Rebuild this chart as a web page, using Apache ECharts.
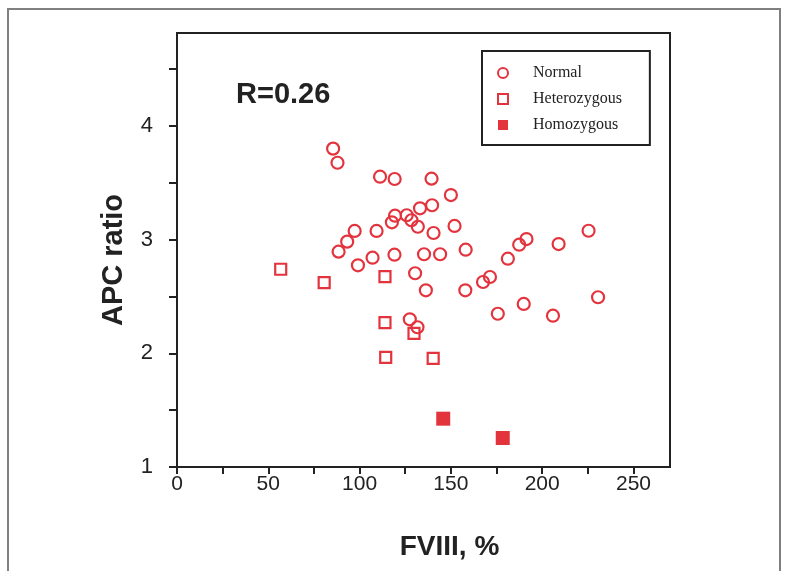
<!DOCTYPE html>
<html>
<head>
<meta charset="utf-8">
<script src="https://cdn.jsdelivr.net/npm/echarts@6/dist/echarts.min.js"></script>
<style>
html,body{margin:0;padding:0;background:#fff;}
#chart{width:788px;height:571px;}
</style>
</head>
<body>
<div id="chart"></div>
<script>
// FVIII (%) and APC ratio
const normalFVIII = [85.5, 87.9, 111.2, 119.2, 139.4, 150.0, 139.7, 133.1, 119.4, 125.8,
  117.7, 128.4, 131.9, 140.5, 97.3, 109.3, 93.2, 88.5, 99.1, 107.1,
  119.1, 135.3, 144.1, 152.0, 158.1, 130.4, 136.3, 157.9, 171.4, 167.6,
  181.2, 187.4, 191.4, 209.0, 225.4, 230.6, 189.9, 175.7, 205.9, 127.5, 131.7];
const normalAPC = [3.80, 3.676, 3.553, 3.533, 3.536, 3.392, 3.302, 3.275, 3.210, 3.214,
  3.152, 3.170, 3.113, 3.058, 3.076, 3.076, 2.982, 2.894, 2.774, 2.841,
  2.867, 2.871, 2.871, 3.120, 2.911, 2.704, 2.554, 2.554, 2.671, 2.627,
  2.832, 2.955, 3.005, 2.961, 3.078, 2.493, 2.434, 2.348, 2.331, 2.299, 2.229];
const heteroFVIII = [56.8, 80.6, 113.9, 113.9, 129.8, 114.3, 140.3];
const heteroAPC = [2.739, 2.621, 2.674, 2.269, 2.176, 1.965, 1.956];
const homoFVIII = [145.8, 178.4];
const homoAPC = [1.425, 1.255];

const xTickValues = [0, 25, 50, 75, 100, 125, 150, 175, 200, 225, 250];
const xLabelValues = [0, 50, 100, 150, 200, 250];
const yTickValues = [1, 1.5, 2, 2.5, 3, 3.5, 4, 4.5];
const yLabelValues = [1, 2, 3, 4];

const seriesNames = ['Normal', 'Heterozygous', 'Homozygous'];
const annotation = 'R=0.26';
const xTitle = 'FVIII, %';
const yTitle = 'APC ratio';

const RED = '#e3343e';
const INK = '#222222';
const zip = (a, b) => a.map((v, i) => [v, b[i]]);

const chart = echarts.init(document.getElementById('chart'), null, {renderer: 'canvas'});
chart.setOption({
  backgroundColor: '#ffffff',
  animation: false,
  grid: {
    left: 177, right: 118, top: 33, bottom: 104,
    show: true, borderColor: INK, borderWidth: 2,
    outerBoundsMode: 'none', containLabel: false
  },
  xAxis: {
    type: 'value', min: 0, max: 270,
    name: xTitle, nameLocation: 'middle', nameGap: 66,
    nameTextStyle: {fontFamily: 'Liberation Sans', fontWeight: 'bold', fontSize: 28, color: INK,
      padding: [0, 0, 0, 52]},
    axisLine: {show: true, onZero: false, lineStyle: {color: INK, width: 2}},
    axisTick: {show: true, inside: false, length: 7, lineStyle: {color: INK, width: 2}, customValues: xTickValues},
    axisLabel: {show: true, margin: 7, customValues: xLabelValues,
      fontFamily: 'Liberation Sans', fontSize: 21, color: INK},
    splitLine: {show: false}
  },
  yAxis: {
    type: 'value', min: 1, max: 4.817,
    name: yTitle, nameLocation: 'middle', nameGap: 49, nameRotate: 90,
    nameTextStyle: {fontFamily: 'Liberation Sans', fontWeight: 'bold', fontSize: 29, color: INK,
      padding: [0, 20, 0, 0]},
    axisLine: {show: true, onZero: false, lineStyle: {color: INK, width: 2}},
    axisTick: {show: true, inside: false, length: 8, lineStyle: {color: INK, width: 2}, customValues: yTickValues},
    axisLabel: {show: true, margin: 24, customValues: yLabelValues,
      fontFamily: 'Liberation Sans', fontSize: 22, color: INK},
    splitLine: {show: false}
  },
  legend: {
    show: true, orient: 'vertical', left: 482, top: 51,
    data: seriesNames,
    borderColor: INK, borderWidth: 2, borderRadius: 0,
    padding: [14, 28, 12, 15],
    itemWidth: 10, itemHeight: 10, itemGap: 10,
    textStyle: {fontFamily: 'Liberation Serif', fontSize: 16, lineHeight: 16, color: INK, padding: [0, 0, 0, 20]}
  },
  graphic: [
    {type: 'rect', silent: true, shape: {x: 8, y: 9, width: 772, height: 620},
      style: {fill: 'none', stroke: '#808080', lineWidth: 2}},
    {type: 'text', silent: true, x: 236, y: 95,
      style: {text: annotation, fontFamily: 'Liberation Sans', fontWeight: 'bold', fontSize: 29,
        fill: INK, textVerticalAlign: 'middle'}}
  ],
  series: [
    {name: seriesNames[0], type: 'scatter', data: zip(normalFVIII, normalAPC),
      symbol: 'circle', symbolSize: 12,
      itemStyle: {color: 'rgba(0,0,0,0)', borderColor: RED, borderWidth: 2.2, opacity: 1}},
    {name: seriesNames[1], type: 'scatter', data: zip(heteroFVIII, heteroAPC),
      symbol: 'rect', symbolSize: 11,
      itemStyle: {color: 'rgba(0,0,0,0)', borderColor: RED, borderWidth: 2.2, opacity: 1}},
    {name: seriesNames[2], type: 'scatter', data: zip(homoFVIII, homoAPC),
      symbol: 'rect', symbolSize: 14,
      itemStyle: {color: RED, borderColor: RED, borderWidth: 0, opacity: 1}}
  ]
});
</script>
</body>
</html>
